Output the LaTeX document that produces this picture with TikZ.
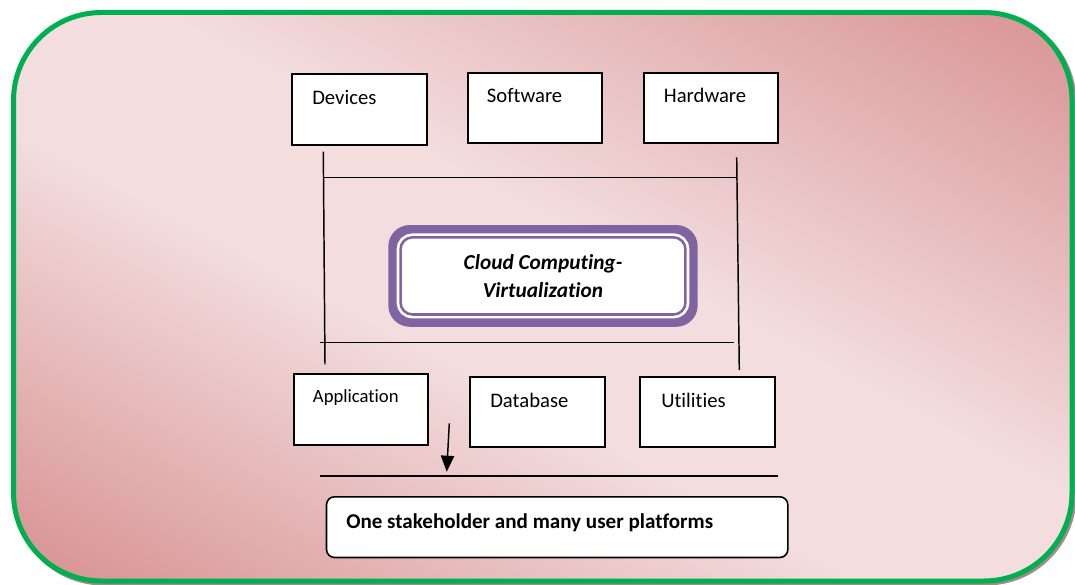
\documentclass[tikz,border=0pt]{standalone}
\usepackage{fontspec}
\setmainfont{Carlito}[RawFeature={-liga;-clig;-calt;-dlig}]
\usetikzlibrary{arrows.meta}
\definecolor{leafgreen}{RGB}{0, 176, 80}
\definecolor{blush}{RGB}{243, 221, 222}
\definecolor{rosewood}{RGB}{216, 146, 147}
\definecolor{lavender}{RGB}{128, 100, 162}
\definecolor{smoke}{RGB}{160, 140, 140}
\pgfdeclarehorizontalshading{rosetint}{100bp}{color(0bp)=(rosewood); color(17bp)=(rosewood);
  color(43bp)=(blush); color(55bp)=(blush); color(84bp)=(rosewood); color(100bp)=(rosewood)}

\begin{document}
\begin{tikzpicture}[x=0.75pt, y=-0.75pt,
    itembox/.style={draw=black, line width=1.5pt, fill=white, anchor=north west, inner sep=0pt,
                    minimum width=101pt, minimum height=53pt},
    itemtext/.style={anchor=base west, inner sep=0pt, font=\fontsize{15.5}{18}\selectfont},
    link/.style={draw=black, line width=1.1pt}]
            \useasboundingbox (0, 0) rectangle (1075, 585);
            % outer frame: shadow, tint, green rim
            \draw[smoke, line width=3.75pt, rounded corners=66pt]                      (15.5, 14.5) rectangle (1074.0, 583.0);
            \shade[shading=rosetint, shading angle=62, rounded corners=66pt]           (13.5, 12.5) rectangle (1072.0, 581.0);
            \draw[leafgreen, line width=3.75pt, rounded corners=66pt]                  (13.5, 12.5) rectangle (1072.0, 581.0);
            % upper row
            \node[itembox]                                 (devices)  at (291.0,  73.3) {};
            \node[itembox, minimum height=52.5pt]          (software) at (466.7,  71.7) {};
            \node[itembox]                                 (hardware) at (642.7,  71.7) {};
            \node[itemtext] at ([shift={(21, 31)}]devices.north west)  {Devices};
            \node[itemtext] at ([shift={(20, 31)}]software.north west) {Software};
            \node[itemtext] at ([shift={(21, 31)}]hardware.north west) {Hardware};
            % lower row
            \node[itembox]                                 (application) at (292.7, 373.3) {};
            \node[itembox, minimum height=52.7pt]          (database)    at (469.0, 375.7) {};
            \node[itembox, minimum height=52.7pt]          (utilities)   at (639.0, 375.7) {};
            \node[itemtext, font=\fontsize{14}{17}\selectfont] at ([shift={(20, 29)}]application.north west) {Application};
            \node[itemtext] at ([shift={(21, 31.6)}]database.north west)  {Database};
            \node[itemtext] at ([shift={(22, 31.6)}]utilities.north west) {Utilities};
            % virtualization block
            \node[fill=lavender, rounded corners=16pt, minimum width=232pt, minimum height=76.3pt] (cloudrim) at (543.0, 275.9) {};
            \node[fill=white, draw=lavender, line width=1.9pt, rounded corners=9pt,
                  preaction={draw=white, line width=5.9pt},
                  minimum width=213.7pt, minimum height=57.9pt, align=center,
                  font=\fontsize{16}{21.2}\selectfont\bfseries\itshape] (cloud) at (cloudrim.center) {Cloud Computing-\\Virtualization};
            % bottom box
            \node[draw=black, line width=1.2pt, fill=white, rounded corners=6pt, anchor=north west,
                  inner sep=0pt, minimum width=346pt, minimum height=45.5pt] (platforms) at (325.7, 496.0) {};
            \node[itemtext, font=\fontsize{15.8}{19}\selectfont\bfseries] at ([shift={(20.3, 32.7)}]platforms.north west) {One stakeholder and many user platforms};
            % connecting lines
            \coordinate (devfoot)    at (323.3, 151.7);
            \coordinate (appcap)     at (325.0, 364.3);
            \coordinate (hwfoot)     at (736.7, 157.3);
            \coordinate (utilcap)    at (739.3, 370.0);
            \coordinate (upperleft)  at (323.3, 177.3);
            \coordinate (upperright) at (736.7, 177.3);
            \coordinate (lowerleft)  at (320.0, 342.3);
            \coordinate (lowerright) at (734.0, 342.3);
            \coordinate (baseleft)   at (320.0, 475.7);
            \coordinate (baseright)  at (778.3, 475.7);
            \coordinate (dropstart)  at (449.3, 423.3);
            \coordinate (droptip)    at (446.7, 471.7);
            \draw[link] (devfoot)   -- (appcap);
            \draw[link] (hwfoot)    -- (utilcap);
            \draw[link] (upperleft) -- (upperright);
            \draw[link] (lowerleft) -- (lowerright);
            \draw[link, line width=1.3pt] (baseleft) -- (baseright);
            \draw[link, -{Triangle[length=12pt, width=10pt]}] (dropstart) -- (droptip);
            \end{tikzpicture}
\end{document}
